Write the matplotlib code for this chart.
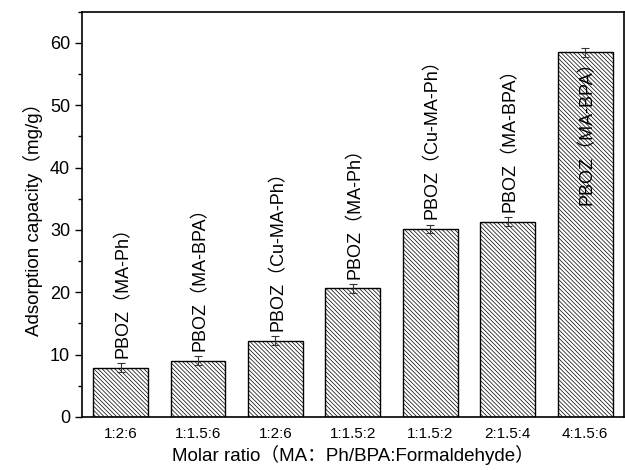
import matplotlib
matplotlib.use('Agg')
import matplotlib.pyplot as plt
from matplotlib.ticker import MultipleLocator

plt.rcParams['font.family'] = ['Liberation Sans', 'Noto Sans CJK SC', 'DejaVu Sans']
plt.rcParams['hatch.linewidth'] = 0.5

# data
ratios = ['1:2:6', '1:1.5:6', '1:2:6', '1:1.5:2', '1:1.5:2', '2:1.5:4', '4:1.5:6']
names = ['PBOZ（MA-Ph）', 'PBOZ（MA-BPA）', 'PBOZ（Cu-MA-Ph）', 'PBOZ（MA-Ph）',
         'PBOZ（Cu-MA-Ph）', 'PBOZ（MA-BPA）', 'PBOZ（MA-BPA）']
capacity = [7.9, 9.0, 12.2, 20.6, 30.2, 31.3, 58.5]
errors = [0.7, 0.75, 0.7, 0.65, 0.65, 0.7, 0.7]

fig = plt.figure(figsize=(6.25, 4.7), dpi=100)
ax = fig.add_axes([0.131, 0.113, 0.867, 0.862])

x = list(range(len(capacity)))
ax.bar(x, capacity, width=0.71, color='white', edgecolor='black',
       linewidth=1.0, hatch='\\' * 8, yerr=errors,
       error_kw=dict(ecolor='#333333', elinewidth=0.8, capsize=3, capthick=0.8))

for i in x:
    if i == len(x) - 1:
        ypos = 34.0
    else:
        ypos = capacity[i] + errors[i] + 0.9
    # small nudge: the CJK brackets widen the text box to the left
    ax.text(i + 0.03, ypos, names[i], rotation=90, ha='center', va='bottom', fontsize=13)

ax.set_xlim(-0.5, 6.5)
ax.set_ylim(0, 65)
ax.set_xticks(x)
ax.set_xticklabels(ratios, fontsize=11)
ax.tick_params(axis='x', length=0, pad=7)
ax.yaxis.set_major_locator(MultipleLocator(10))
ax.yaxis.set_minor_locator(MultipleLocator(5))
ax.tick_params(axis='y', which='major', direction='out', length=5, width=1, labelsize=13)
ax.tick_params(axis='y', which='minor', direction='out', length=3, width=1)
for s in ax.spines.values():
    s.set_linewidth(1.2)

ax.set_ylabel('Adsorption capacity（mg/g）', fontsize=13.5, labelpad=5)
ax.set_xlabel('Molar ratio（MA：Ph/BPA:Formaldehyde）', fontsize=13.5, labelpad=3)

fig.savefig('out.png', dpi=100)
